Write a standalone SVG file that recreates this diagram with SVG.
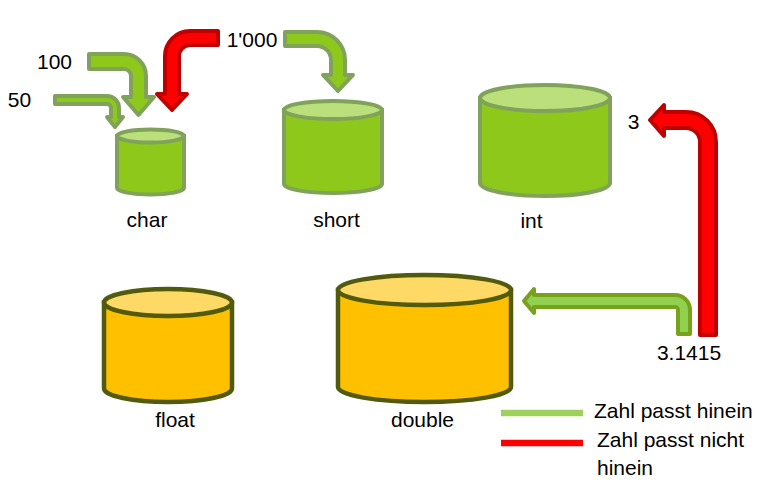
<svg xmlns="http://www.w3.org/2000/svg" width="766" height="493" viewBox="0 0 766 493">
<style>
text{font-family:"Liberation Sans",Arial,sans-serif;font-size:21px;fill:#000;text-anchor:middle}
.lg{text-anchor:start}
.gb{fill:#8DC81B;stroke:#80A25A;stroke-width:4}
.gt{fill:#BBDF7A;stroke:#80A25A;stroke-width:4}
.yb{fill:#FFC000;stroke:#525A0E;stroke-width:4.5}
.yt{fill:#FFD966;stroke:#525A0E;stroke-width:4.5}
.ag{fill:#8DC81B;stroke:#80A25A;stroke-width:4;stroke-linejoin:round}
.ar{fill:#FF0000;stroke:#C00000;stroke-width:4;stroke-linejoin:round}
.al{fill:#92D050;stroke:#78A21C;stroke-width:4;stroke-linejoin:round}
</style>
<rect width="766" height="493" fill="#fff"/>
<g id="connectors">
<path class="ag" d="M89,54 H124 A22,22 0 0 1 146,76 V97 H154 L138.5,115 L123,97 H131 V76 A7,7 0 0 0 124,69 H89 Z"/>
<path class="ag" d="M55,96 H107 A12,12 0 0 1 119,108 V117 H123 L115,127 L107,117 H111 V108 A4,4 0 0 0 107,104 H55 Z"/>
<path class="ar" d="M218,31 H190 A25,25 0 0 0 165,56 V94 H157 L172,110 L187,94 H179 V56 A11,11 0 0 1 190,45 H218 Z"/>
<path class="ag" d="M285,32 H317 A28,28 0 0 1 345,60 V75 H353 L338,91 L323,75 H331 V60 A14,14 0 0 0 317,46 H285 Z"/>
<path class="ar" d="M700,335 V142 A14,14 0 0 0 686,128 H664 V136 L650,120 L664,105 V112 H686 A30,30 0 0 1 716,142 V335 Z"/>
<path class="al" d="M678,334 V310 A3,3 0 0 0 675,307 H534 V313 L524,301 L534,289 V295 H675 A15,15 0 0 1 690,310 V334 Z"/>
</g>
<g id="char">
<path class="gb" d="M117,136 V188 A33.5,6.5 0 0 0 184,188 V136 Z"/>
<ellipse class="gt" cx="150.5" cy="136" rx="33.5" ry="6.5"/>
<text x="147" y="227">char</text>
</g>
<g id="short">
<path class="gb" d="M284,110 V184 A49,9 0 0 0 382,184 V110 Z"/>
<ellipse class="gt" cx="333" cy="110" rx="49" ry="9"/>
<text x="336.5" y="227">short</text>
</g>
<g id="int">
<path class="gb" d="M480,98 V183 A65,13 0 0 0 610,183 V98 Z"/>
<ellipse class="gt" cx="545" cy="98" rx="65" ry="13"/>
<text x="531.5" y="228">int</text>
</g>
<g id="float">
<path class="yb" d="M104,302.5 V388.5 A64,13.5 0 0 0 232,388.5 V302.5 Z"/>
<ellipse class="yt" cx="168" cy="302.5" rx="64" ry="13.5"/>
<text x="175" y="427">float</text>
</g>
<g id="double">
<path class="yb" d="M338,290 V387 A86.5,15 0 0 0 511,387 V290 Z"/>
<ellipse class="yt" cx="424.5" cy="290" rx="86.5" ry="15"/>
<text x="422.5" y="427">double</text>
</g>
<g id="v100"><text x="54.5" y="69">100</text></g>
<g id="v50"><text x="19.5" y="107">50</text></g>
<g id="v1000"><text x="252" y="47">1'000</text></g>
<g id="v3"><text x="633.5" y="129">3</text></g>
<g id="v31415"><text x="689" y="360">3.1415</text></g>
<g id="legend">
<line x1="501" y1="413" x2="583" y2="413" stroke="#9ED15B" stroke-width="6.5"/>
<line x1="501" y1="443" x2="583" y2="443" stroke="#FF0000" stroke-width="6.5"/>
<text class="lg" x="594" y="418">Zahl passt hinein</text>
<text class="lg" x="597" y="447">Zahl passt nicht</text>
<text class="lg" x="597" y="475">hinein</text>
</g>
</svg>
